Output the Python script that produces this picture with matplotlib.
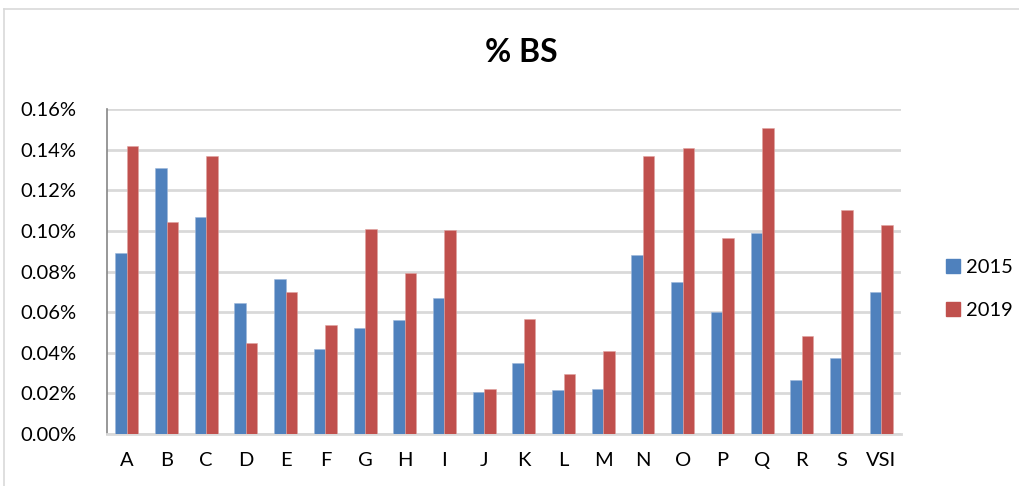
"""
% BS by category, 2015 vs 2019 - grouped bar chart
"""
import numpy as np
import matplotlib
matplotlib.use('Agg')
import matplotlib.pyplot as plt
from matplotlib.lines import Line2D
from matplotlib.patches import Patch
from matplotlib.ticker import FuncFormatter

# Data (values in percent)
categories = ['A', 'B', 'C', 'D', 'E', 'F', 'G', 'H', 'I', 'J',
              'K', 'L', 'M', 'N', 'O', 'P', 'Q', 'R', 'S', 'VSI']
bs_2015 = [0.0891, 0.1311, 0.1068, 0.0645, 0.0763, 0.0417, 0.0522, 0.0561, 0.0668, 0.0208,
           0.0351, 0.0215, 0.0222, 0.0881, 0.0750, 0.0601, 0.0990, 0.0268, 0.0373, 0.0699]
bs_2019 = [0.1418, 0.1042, 0.1369, 0.0447, 0.0698, 0.0537, 0.1009, 0.0793, 0.1006, 0.0220,
           0.0568, 0.0297, 0.0409, 0.1369, 0.1408, 0.0967, 0.1505, 0.0483, 0.1101, 0.1029]
series_labels = ['2015', '2019']
y_ticks = [0.00, 0.02, 0.04, 0.06, 0.08, 0.10, 0.12, 0.14, 0.16]

BLUE = '#4F81BD'
RED = '#C0504D'
FONT = 'Lato'

plt.rcParams['font.family'] = [FONT, 'DejaVu Sans']

W, H = 1020, 486
fig = plt.figure(figsize=(W / 100, H / 100), dpi=100)
ax = fig.add_axes([107 / W, 1 - 434 / H, (901 - 107) / W, (434 - 109) / H])

x = np.arange(len(categories))
bw = 0.29
ax.bar(x - bw / 2, bs_2015, bw, color=BLUE, edgecolor='#9DB7DB', linewidth=0.4, zorder=3)
ax.bar(x + bw / 2, bs_2019, bw, color=RED, edgecolor='#E0A3A1', linewidth=0.4, zorder=3)

ax.set_xlim(-0.5, len(categories) - 0.5)
ax.set_ylim(0, 0.16)
ax.set_yticks(y_ticks)
ax.yaxis.set_major_formatter(FuncFormatter(lambda v, p: f'{v:.2f}%'))
ax.set_xticks(x)
ax.set_xticklabels(categories)
ax.tick_params(axis='both', length=0, labelsize=14.5, colors='black')
ax.tick_params(axis='y', pad=22)
ax.tick_params(axis='x', pad=13)

ax.grid(axis='y', color='#D9D9D9', linewidth=2, zorder=0)
for side in ['top', 'right']:
    ax.spines[side].set_visible(False)
ax.spines['left'].set_color('#868686')
ax.spines['left'].set_linewidth(1.2)
ax.spines['bottom'].set_color('#D9D9D9')
ax.spines['bottom'].set_linewidth(2)

fig.text(521 / W, 1 - 53 / H, '% BS', ha='center', va='center',
         fontsize=23, fontweight='bold')

handles = [Patch(color=BLUE), Patch(color=RED)]
fig.legend(handles, series_labels, loc='center left',
           bbox_to_anchor=(928 / W, 1 - 289 / H), frameon=False,
           fontsize=14.5, handlelength=0.7, handleheight=0.7,
           handletextpad=0.3, labelspacing=1.25)

# chart frame
fig.add_artist(Line2D([4 / W, 4 / W], [0, 1 - 9 / H], transform=fig.transFigure,
                      color='#D9D9D9', linewidth=1.2))
fig.add_artist(Line2D([4 / W, 1], [1 - 9 / H, 1 - 9 / H], transform=fig.transFigure,
                      color='#D9D9D9', linewidth=1.2))

fig.savefig('out.png', dpi=100, facecolor='white')
